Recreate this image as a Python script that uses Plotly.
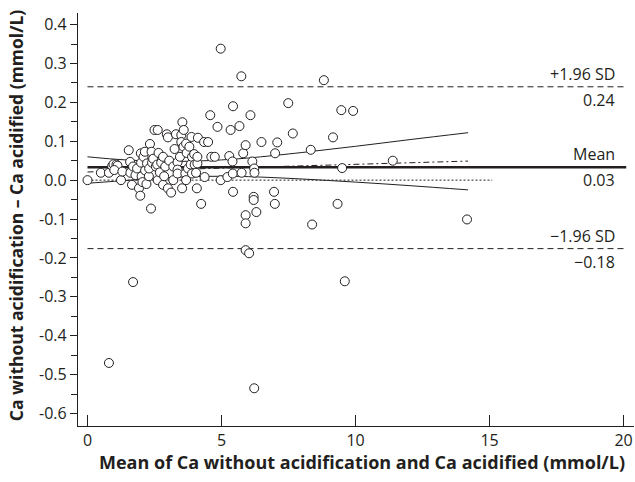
import plotly.graph_objects as go

# ---------------- data ----------------
mean_vals = [
    0.0, 0.5, 0.8, 0.92, 0.97, 1.08, 1.12, 1.0, 1.25, 1.3, 0.8,
    1.54, 1.59, 1.6, 1.66, 1.7, 1.7, 1.79, 1.85, 1.92, 1.97, 1.99, 2.0, 2.02, 2.05,
    2.09, 2.14, 2.15, 2.2, 2.22, 2.29, 2.3, 2.33, 2.37, 2.39, 2.41, 2.45, 2.5, 2.55,
    2.6, 2.62, 2.62, 2.65, 2.7, 2.75, 2.82, 2.82, 2.86, 2.9, 2.96, 3.0, 3.0,
    3.05, 3.12, 3.2, 3.2, 3.25, 3.3, 3.36, 3.36, 3.36, 3.45, 3.5, 3.5, 3.53, 3.54,
    3.58, 3.59, 3.65, 3.68, 3.68, 3.7, 3.75, 3.8, 3.85, 3.88, 3.9, 3.9, 3.98, 4.0,
    4.05, 4.08, 4.1, 4.12, 4.1, 4.24, 4.35, 4.37, 4.5, 4.58, 4.62, 4.75,
    4.85, 4.97, 4.97, 5.22, 5.29, 5.34, 5.41, 5.42, 5.43, 5.43, 5.67, 5.74, 5.75,
    5.81, 5.9, 5.9, 5.9, 5.9, 6.03, 6.08, 6.15, 6.2, 6.2, 6.22, 6.23, 6.22, 6.3,
    6.49, 6.96, 6.99, 7.0, 7.08, 7.49, 7.66,
    8.33, 8.38, 8.82, 9.16, 9.33, 9.47, 9.5, 9.6, 9.91, 11.39, 14.16,
]
diff_vals = [
    0.0, 0.019, 0.019, 0.036, 0.041, 0.04, 0.037, 0.026, 0.0, 0.022, -0.47,
    0.077, 0.047, 0.019, -0.012, -0.262, 0.035, 0.013, 0.03, -0.021, -0.04, 0.069, 0.045, 0.01, -0.005,
    0.06, 0.073, 0.025, -0.01, 0.043, 0.01, 0.03, 0.093, -0.073, 0.073, 0.045, 0.055, 0.129, 0.035,
    0.04, 0.129, 0.0, 0.07, 0.02, 0.045, 0.06, -0.012, 0.01, 0.035, 0.118, 0.11, -0.021,
    0.05, -0.032, 0.0, 0.035, 0.08, 0.118, 0.046, 0.027, 0.017, 0.06, 0.116, 0.098, -0.021, 0.149,
    0.086, 0.129, 0.017, 0.094, 0.0, 0.07, 0.03, 0.086, 0.04, 0.111, 0.017, 0.06, 0.067, 0.04,
    0.019, -0.021, 0.043, 0.109, 0.06, -0.061, 0.098, 0.008, 0.098, 0.167, 0.06, 0.06,
    0.137, 0.338, 0.0, 0.008, 0.062, 0.129, 0.048, 0.017, 0.19, -0.03, 0.139, 0.267, 0.019,
    0.069, 0.09, -0.09, -0.111, -0.18, -0.188, 0.167, 0.048, -0.043, -0.051, 0.03, 0.019, -0.535, -0.082,
    0.098, -0.03, -0.061, 0.069, 0.097, 0.198, 0.12,
    0.078, -0.114, 0.257, 0.11, -0.061, 0.18, 0.031, -0.26, 0.178, 0.05, -0.101,
]

mean_diff = 0.033
upper_loa = 0.240
lower_loa = -0.176
loa_x = [0.0, 20.1]
zero_x = [0.0, 15.1]

reg_x = [0.0, 14.2]
reg_y = [0.021, 0.049]

ci_x = [0, 1, 2, 3, 4, 5, 6, 8, 10, 12, 14.2]
ci_upper = [0.06, 0.054, 0.05, 0.048, 0.049, 0.052, 0.057, 0.071, 0.087, 0.104, 0.122]
ci_lower = [-0.008, -0.003, 0.002, 0.006, 0.009, 0.010, 0.009, 0.003, -0.005, -0.014, -0.025]

x_tick_vals = [0, 5, 10, 15, 20]
x_tick_text = ["0", "5", "10", "15", "20"]
y_tick_vals = [0.4, 0.3, 0.2, 0.1, 0.0, -0.1, -0.2, -0.3, -0.4, -0.5, -0.6]
y_tick_text = ["0.4", "0.3", "0.2", "0.1", "0.0", "-0.1", "-0.2", "-0.3", "-0.4", "-0.5", "-0.6"]
y_minor_vals = [0.35, 0.25, 0.15, 0.05, -0.05, -0.15, -0.25, -0.35, -0.45, -0.55]

label_upper = ["+1.96 SD", "0.24"]
label_mean = ["Mean", "0.03"]
label_lower = ["\u22121.96 SD", "\u22120.18"]

x_title = "Mean of Ca without acidification and Ca acidified (mmol/L)"
y_title = "Ca without acidification \u2013 Ca acidified (mmol/L)"

# ---------------- figure ----------------
INK = "#231f20"
FONT = "Open Sans"

fig = go.Figure()

fig.add_trace(go.Scatter(x=zero_x, y=[0, 0], mode="lines",
                         line=dict(color=INK, width=1, dash="2px,2px"), hoverinfo="skip"))
for yv in (upper_loa, lower_loa):
    fig.add_trace(go.Scatter(x=loa_x, y=[yv, yv], mode="lines",
                             line=dict(color=INK, width=1, dash="6px,4px"), hoverinfo="skip"))
fig.add_trace(go.Scatter(x=loa_x, y=[mean_diff, mean_diff], mode="lines",
                         line=dict(color=INK, width=2.6), hoverinfo="skip"))
fig.add_trace(go.Scatter(x=reg_x, y=reg_y, mode="lines",
                         line=dict(color=INK, width=1, dash="6px,3px,2px,3px"), hoverinfo="skip"))
fig.add_trace(go.Scatter(x=ci_x, y=ci_upper, mode="lines", line=dict(color=INK, width=1, shape="spline"),
                         hoverinfo="skip"))
fig.add_trace(go.Scatter(x=ci_x, y=ci_lower, mode="lines", line=dict(color=INK, width=1, shape="spline"),
                         hoverinfo="skip"))
fig.add_trace(go.Scatter(x=mean_vals, y=diff_vals, mode="markers",
                         marker=dict(symbol="circle", size=9, color="white",
                                     line=dict(color=INK, width=1))))

lab_x = 19.76
for (top, bot), yv in ((label_upper, upper_loa), (label_mean, mean_diff), (label_lower, lower_loa)):
    fig.add_annotation(x=lab_x, y=yv, xref="x", yref="y", text=top, showarrow=False,
                       xanchor="right", yanchor="middle", yshift=13,
                       font=dict(family=FONT, size=16, color=INK))
    fig.add_annotation(x=lab_x, y=yv, xref="x", yref="y", text=bot, showarrow=False,
                       xanchor="right", yanchor="middle", yshift=-13,
                       font=dict(family=FONT, size=16, color=INK))

fig.add_annotation(x=0.51, y=-0.087, xref="paper", yref="paper", text="<b>" + x_title + "</b>",
                   showarrow=False, xanchor="center", yanchor="middle",
                   font=dict(family=FONT, size=18, color=INK))
fig.add_annotation(x=-0.11, y=0.51, xref="paper", yref="paper", text="<b>" + y_title + "</b>",
                   showarrow=False, textangle=-90, xanchor="center", yanchor="middle",
                   font=dict(family=FONT, size=17.5, color=INK))

fig.update_layout(
    width=635, height=482,
    margin=dict(l=78, r=1, t=13, b=56),
    paper_bgcolor="white", plot_bgcolor="white",
    showlegend=False,
    font=dict(family=FONT, size=15, color=INK),
    xaxis=dict(range=[-0.354, 20.39], showgrid=False, zeroline=False,
               showline=True, linecolor=INK, linewidth=1.3,
               tickmode="array", tickvals=x_tick_vals, ticktext=x_tick_text,
               ticks="inside", ticklen=11, tickwidth=1.2, tickcolor=INK,
               tickfont=dict(family=FONT, size=16, color=INK)),
    yaxis=dict(range=[-0.632, 0.4297], showgrid=False, zeroline=False,
               showline=True, linecolor=INK, linewidth=1.3,
               tickmode="array", tickvals=y_tick_vals, ticktext=y_tick_text,
               ticks="outside", ticklen=7, tickwidth=1.2, tickcolor=INK,
               minor=dict(ticks="outside", ticklen=6, tickwidth=1, tickcolor=INK,
                          tickmode="array", tickvals=y_minor_vals),
               tickfont=dict(family=FONT, size=16, color=INK)),
)

fig.write_html("out.html")
